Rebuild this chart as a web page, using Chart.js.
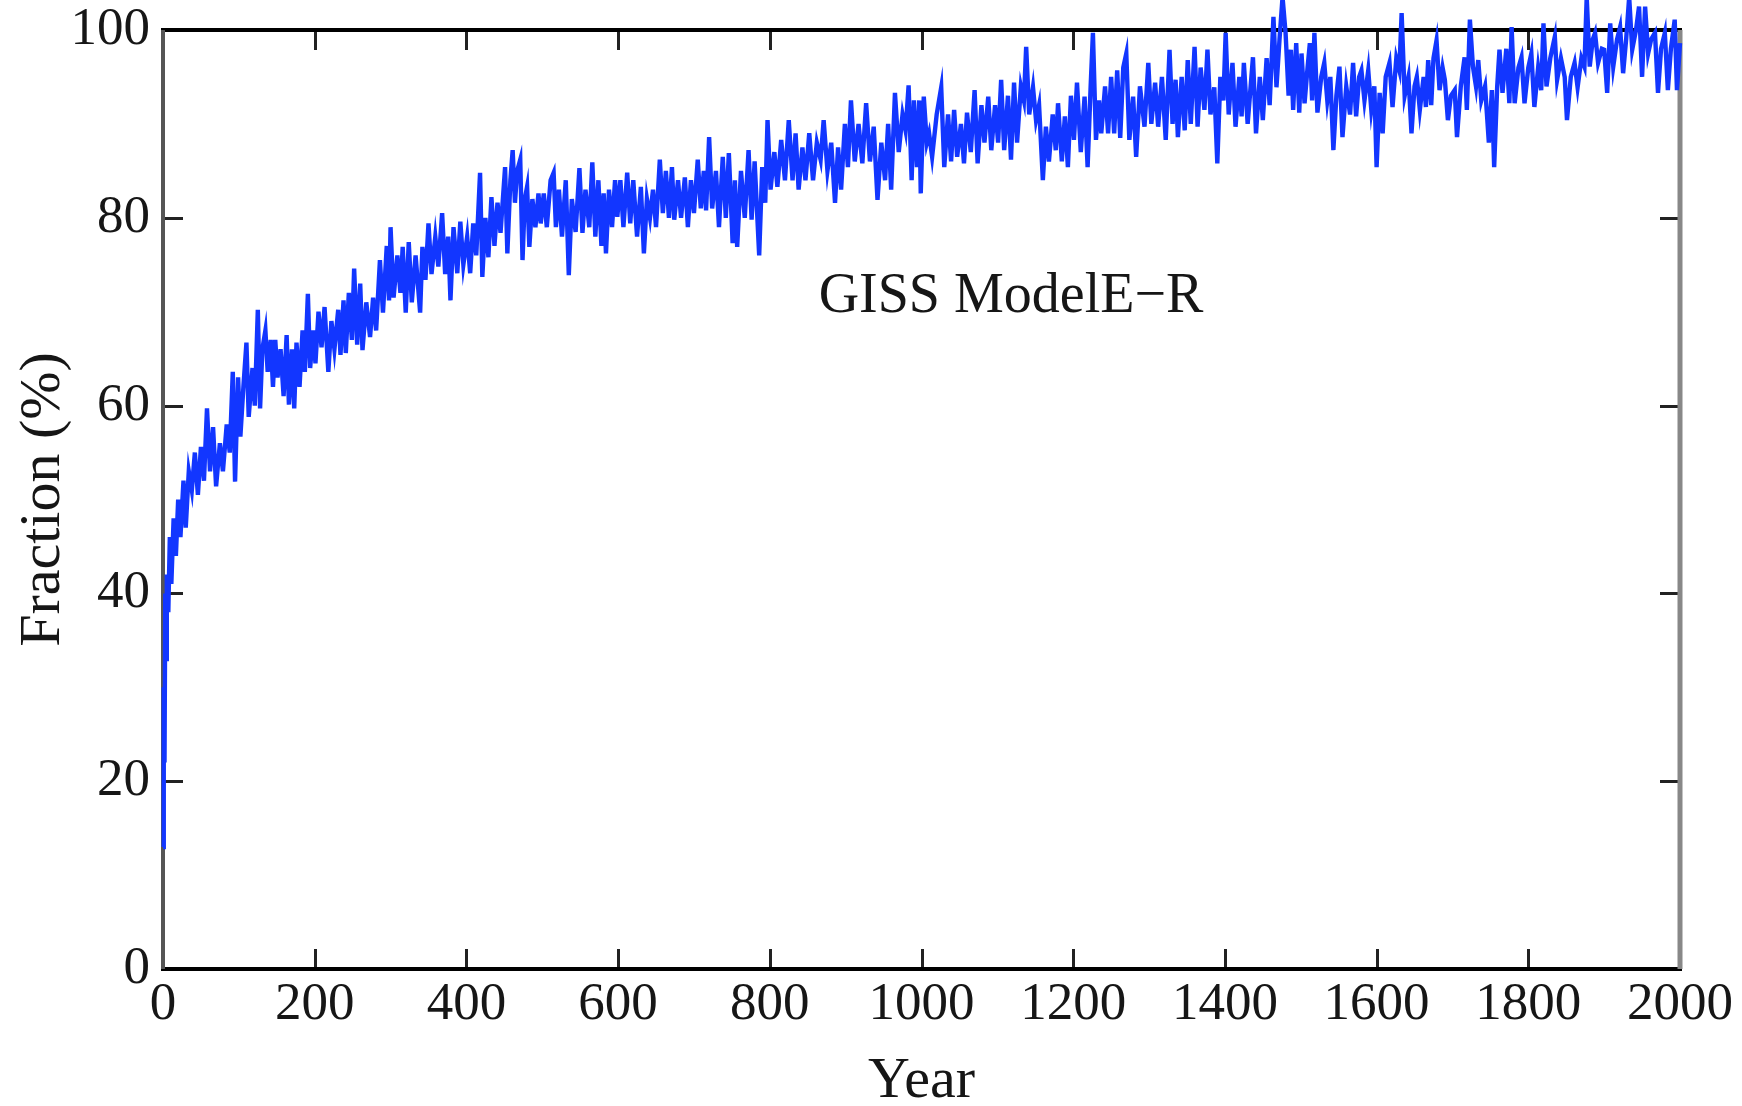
<!DOCTYPE html>
<html lang="en">
<head>
  <meta charset="UTF-8" />
  <title>GISS ModelE-R fraction</title>
  <style>
    html, body {
      margin: 0;
      padding: 0;
      background: #fff;
    }
    #wrap {
      width: 1742px;
      height: 1106px;
    }
  </style>
</head>
<body>
  <div id="wrap"><canvas id="chart" width="1742" height="1106"></canvas></div>

  <script src="https://cdn.jsdelivr.net/npm/chart.js"></script>
  <script>
    // values (upper / lower swings of the noisy trace)
    const years = [
      0, 1, 2, 3, 4, 5, 7, 9, 11, 14, 17, 20, 23, 27, 30, 34, 38, 42, 46, 50, 54, 58, 62, 66, 70, 75, 79, 84, 88, 92, 95, 99,
      102, 106, 110, 113, 118, 121, 125, 128, 131, 135, 138, 142, 145, 148, 151, 155, 159, 163, 166, 170, 173, 176, 180, 184, 187, 191, 194, 198,
      201, 205, 209, 213, 218, 222, 226, 231, 234, 238, 241, 245, 249, 252, 256, 260, 263, 268, 273, 277, 281, 286, 290, 295, 298,
      300, 304, 309, 313, 316, 320, 324, 328, 333, 339, 342, 346, 350, 354, 359, 363, 368, 372, 376, 379, 383, 388, 392, 396,
      401, 405, 409, 413, 418, 421, 425, 429, 433, 437, 441, 445, 451, 454, 458, 461, 464, 467, 471, 474, 477, 480, 483, 487, 491, 495, 498,
      502, 506, 511, 515, 518, 522, 526, 531, 535, 539, 544, 549, 553, 557, 562, 566, 570, 574, 578, 581, 584, 588, 592, 596, 599,
      603, 607, 612, 616, 620, 625, 630, 634, 638, 642, 646, 650, 655, 659, 663, 667, 671, 674, 679, 683, 688, 692, 696,
      700, 705, 709, 713, 716, 720, 724, 729, 733, 738, 742, 746, 751, 754, 757, 762, 767, 772, 776, 780, 786, 790, 794, 797,
      801, 806, 810, 815, 820, 825, 830, 834, 838, 843, 847, 852, 857, 862, 867, 871, 876, 881, 886, 890, 894, 899,
      903, 907, 912, 917, 922, 927, 932, 937, 942, 947, 952, 956, 960, 965, 970, 975, 979, 983, 987, 990, 994, 997, 999,
      1003, 1007, 1010, 1014, 1020, 1026, 1030, 1035, 1039, 1043, 1047, 1052, 1056, 1060, 1065, 1070, 1074, 1079, 1083, 1088, 1092, 1097,
      1101, 1105, 1109, 1114, 1118, 1122, 1126, 1131, 1135, 1138, 1142, 1147, 1151, 1155, 1160, 1164, 1168, 1173, 1177, 1180, 1185, 1189, 1193, 1197,
      1201, 1205, 1210, 1215, 1219, 1223, 1226, 1230, 1234, 1237, 1242, 1246, 1250, 1254, 1258, 1262, 1266, 1270, 1274, 1279, 1283, 1288, 1294, 1299,
      1303, 1308, 1312, 1317, 1322, 1327, 1331, 1335, 1338, 1343, 1347, 1351, 1355, 1360, 1364, 1368, 1373, 1377, 1381, 1386, 1390, 1394, 1398,
      1401, 1405, 1410, 1414, 1419, 1422, 1425, 1430, 1437, 1441, 1446, 1450, 1455, 1459, 1464, 1468, 1472, 1476, 1480, 1484, 1487, 1490, 1494, 1498,
      1501, 1505, 1509, 1512, 1515, 1518, 1522, 1527, 1531, 1535, 1539, 1543, 1547, 1551, 1555, 1560, 1565, 1569, 1573, 1577, 1580, 1584, 1589, 1593, 1597,
      1600, 1604, 1608, 1612, 1617, 1621, 1626, 1630, 1633, 1637, 1642, 1646, 1650, 1653, 1657, 1662, 1665, 1668, 1672, 1675, 1679, 1683, 1687, 1690, 1694, 1698,
      1703, 1706, 1711, 1716, 1719, 1723, 1727, 1731, 1734, 1738, 1743, 1748, 1752, 1755, 1759, 1762, 1766, 1771, 1775, 1778, 1782, 1787, 1791, 1795,
      1800, 1804, 1808, 1813, 1817, 1820, 1824, 1829, 1835, 1838, 1843, 1848, 1851, 1856, 1861, 1865, 1870, 1874, 1877, 1881, 1885, 1888, 1892, 1897,
      1900, 1904, 1908, 1912, 1917, 1921, 1925, 1929, 1933, 1937, 1942, 1946, 1950, 1954, 1958, 1962, 1967, 1971, 1975, 1980, 1984, 1988, 1993, 1996, 2000
    ];

    const fraction = [
      13, 30, 22, 40, 33, 42, 38, 46, 41, 48, 44, 50, 46, 52, 47, 53, 51, 55, 50.5, 55.6, 52, 59.7, 53, 57.7, 51.4, 56, 53, 58, 55, 63.6, 51.9, 63,
      56.7, 62, 66.7, 58.8, 64, 60, 70.2, 59.7, 66, 68, 63.6, 67, 62, 67, 63, 66, 61, 67.5, 60.1, 66, 59.7, 66.7, 62, 68, 63.6, 71.9, 64, 68,
      64.5, 70, 66.2, 70.5, 63.6, 69, 66, 70.2, 65.4, 71.2, 65.6, 72, 67, 74.6, 66.5, 73, 65.9, 71, 67.3, 71.5, 68, 75.5, 69.9, 77, 71.2,
      79, 71.5, 76, 72, 76.9, 69.9, 77.4, 71, 76, 69.9, 76.9, 73.4, 79.4, 74, 78, 74.8, 80.5, 74, 78, 71.2, 79, 74.1, 79.6, 75,
      78, 74.1, 79.4, 76, 84.8, 73.7, 80, 75.8, 82.2, 77, 81.6, 78.4, 85.4, 76.2, 84, 87.2, 81.6, 85, 86.2, 75.5, 82, 83.3, 76.9, 82, 79, 82.6, 79.4,
      82.6, 79, 84, 84.8, 79, 83, 78, 84, 73.9, 82, 78.5, 85.3, 78.4, 83, 79, 85.9, 78, 84, 77, 82.6, 76.2, 83, 79, 84, 80.1,
      84, 79, 84.8, 79.4, 84, 78, 83.3, 76.2, 82, 80, 83, 79, 86.2, 80.5, 85, 80, 85.4, 79.8, 84, 80, 84.3, 79, 84,
      80.5, 86.2, 81, 85, 80.8, 88.6, 81, 85, 79, 86.5, 80, 86.9, 77.3, 84, 76.9, 85, 80, 87.2, 79.8, 86, 76, 85.4, 81.6, 90.4,
      83, 87, 83.3, 88.3, 84, 90.4, 84, 89, 83, 87.5, 84, 89, 84, 88, 86.2, 90.4, 85, 88, 81.6, 87.5, 83, 90,
      85.4, 92.5, 86, 90, 85.8, 92.2, 86, 89.7, 81.9, 88, 84, 90, 83, 93.3, 87, 91, 89.3, 94.1, 84, 92.5, 85.4, 92.5, 82.6,
      92.9, 88, 89, 86.5, 91, 93.9, 85.4, 91, 86, 91.5, 86.5, 90, 85.8, 91.2, 87, 93.6, 85.8, 92, 88, 92.9, 87.2, 92,
      88, 94.7, 87.2, 93, 86.2, 94.4, 88, 94, 92.5, 98.2, 91, 93.9, 90.4, 92, 84, 89.7, 86, 91, 87.2, 92.2, 86, 90.8, 85.4, 93,
      88.3, 94.4, 87, 92.9, 85.4, 94, 99.7, 88.3, 92.5, 89, 94, 89, 95, 89, 95.7, 88.5, 96, 97.5, 88.3, 92.9, 86.5, 94, 89.7, 96.5,
      90, 94.4, 89.7, 95, 88.3, 97.9, 90, 94.7, 88.6, 95, 89.3, 96.8, 90, 98.2, 89.7, 96, 91.5, 97.9, 91, 93.9, 85.8, 95, 92.5,
      99.7, 91, 96.5, 89.7, 95, 90.8, 96.5, 90, 97.1, 89, 95, 90.4, 97, 92, 101.4, 93.9, 99, 103.5, 99.7, 93, 97.9, 91.5, 98.6, 91.2,
      97.5, 92.2, 96, 98.6, 92.5, 99.7, 91.2, 95, 96.5, 92.5, 95, 87.2, 93, 96.1, 88.6, 94, 91, 96.5, 90.8, 95, 95.7, 92.5, 95.7, 91.5, 94,
      85.4, 93.3, 89, 95, 96.5, 91.8, 97, 95.7, 101.8, 93, 95, 89, 94, 95, 91.5, 95, 91.8, 96.8, 92, 97, 98.9, 93.6, 96, 94.7, 90.4, 93,
      93.6, 88.6, 94, 97.1, 91.5, 101.1, 96.1, 94, 96.8, 92.5, 94, 88, 93.6, 85.4, 94, 97.9, 93.3, 98, 92.2, 100.3, 92.2, 96, 97.1, 92.2,
      96, 97.5, 91.8, 96, 93.6, 100.7, 94, 97, 99.3, 94.7, 97, 95, 90.4, 95, 96.5, 93.9, 97, 96.1, 103.5, 96.1, 99, 99.7, 96.5, 98,
      97.9, 93.3, 100.7, 96.1, 99, 100.3, 95.4, 99, 103.5, 97.9, 100, 102.5, 95, 102.5, 97.5, 99, 99.7, 93.3, 98, 99.7, 93.6, 98, 101.1, 93.6, 98.6
    ];

    const xTicks = [0, 200, 400, 600, 800, 1000, 1200, 1400, 1600, 1800, 2000];
    const yTicks = [0, 20, 40, 60, 80, 100];
    const modelName = 'GISS ModelE\u2212R';

    const serif = '"Liberation Serif", "DejaVu Serif", "Times New Roman", serif';
    const textColor = '#161616';
    const tickLen = 20;

    // frame round the plot and inward tick marks on all four sides
    const framePlugin = {
      id: 'frame',
      beforeDatasetsDraw(chart) {
        const { ctx, chartArea: a, scales: { x, y } } = chart;
        ctx.save();
        ctx.lineCap = 'butt';
        ctx.strokeStyle = '#222';
        ctx.lineWidth = 3;
        ctx.beginPath();
        xTicks.slice(1, -1).forEach(v => {
          const px = Math.round(x.getPixelForValue(v)) + 0.5;
          ctx.moveTo(px, a.bottom);
          ctx.lineTo(px, a.bottom - tickLen);
          ctx.moveTo(px, a.top);
          ctx.lineTo(px, a.top + tickLen);
        });
        yTicks.slice(1, -1).forEach(v => {
          const py = Math.round(y.getPixelForValue(v)) + 0.5;
          ctx.moveTo(a.left, py);
          ctx.lineTo(a.left + tickLen, py);
          ctx.moveTo(a.right, py);
          ctx.lineTo(a.right - tickLen, py);
        });
        ctx.stroke();

        ctx.lineWidth = 4;
        ctx.strokeStyle = '#000';
        ctx.beginPath();
        ctx.moveTo(a.left - 2, a.top);
        ctx.lineTo(a.right + 2, a.top);
        ctx.moveTo(a.left - 2, a.bottom);
        ctx.lineTo(a.right + 2, a.bottom);
        ctx.stroke();

        ctx.strokeStyle = '#555';
        ctx.beginPath();
        ctx.moveTo(a.left, a.top);
        ctx.lineTo(a.left, a.bottom);
        ctx.stroke();

        ctx.strokeStyle = '#888';
        ctx.lineWidth = 5;
        ctx.beginPath();
        ctx.moveTo(a.right, a.top);
        ctx.lineTo(a.right, a.bottom);
        ctx.stroke();
        ctx.restore();
      },
      afterDraw(chart) {
        const { ctx, scales: { x, y } } = chart;
        ctx.save();
        ctx.font = '56px ' + serif;
        ctx.fillStyle = textColor;
        ctx.textAlign = 'center';
        ctx.textBaseline = 'alphabetic';
        ctx.fillText(modelName, x.getPixelForValue(1118), y.getPixelForValue(70));
        ctx.restore();
      }
    };

    new Chart(document.getElementById('chart'), {
      type: 'line',
      data: {
        datasets: [{
          data: years.map((yr, i) => ({ x: yr, y: fraction[i] })),
          borderColor: '#1236ff',
          borderWidth: 4.4,
          pointRadius: 0,
          tension: 0,
          clip: false
        }]
      },
      options: {
        responsive: false,
        animation: false,
        layout: { padding: { top: 30, right: 62, left: 0, bottom: 0 } },
        plugins: {
          legend: { display: false },
          tooltip: { enabled: false }
        },
        scales: {
          x: {
            type: 'linear',
            min: 0,
            max: 2000,
            afterBuildTicks: s => { s.ticks = xTicks.map(v => ({ value: v })); },
            afterFit: s => { s.height = 137; },
            grid: { display: false, drawTicks: false },
            border: { display: false },
            ticks: {
              font: { family: serif, size: 53 },
              color: textColor,
              padding: 4,
              maxRotation: 0,
              autoSkip: false,
              callback: v => String(v)
            },
            title: {
              display: true,
              text: 'Year',
              color: textColor,
              font: { family: serif, size: 58, lineHeight: 0.8 },
              padding: { top: 0, bottom: 1 }
            }
          },
          y: {
            min: 0,
            max: 100,
            afterBuildTicks: s => { s.ticks = yTicks.map(v => ({ value: v })); },
            afterFit: s => { s.width = 163; },
            grid: { display: false, drawTicks: false },
            border: { display: false },
            ticks: {
              font: { family: serif, size: 53, lineHeight: 0.5 },
              color: textColor,
              padding: 13
            },
            title: {
              display: true,
              text: 'Fraction (%)',
              color: textColor,
              font: { family: serif, size: 58, lineHeight: 1.2 },
              padding: { top: 9, bottom: 0 }
            }
          }
        }
      },
      plugins: [framePlugin]
    });
  </script>
</body>
</html>
